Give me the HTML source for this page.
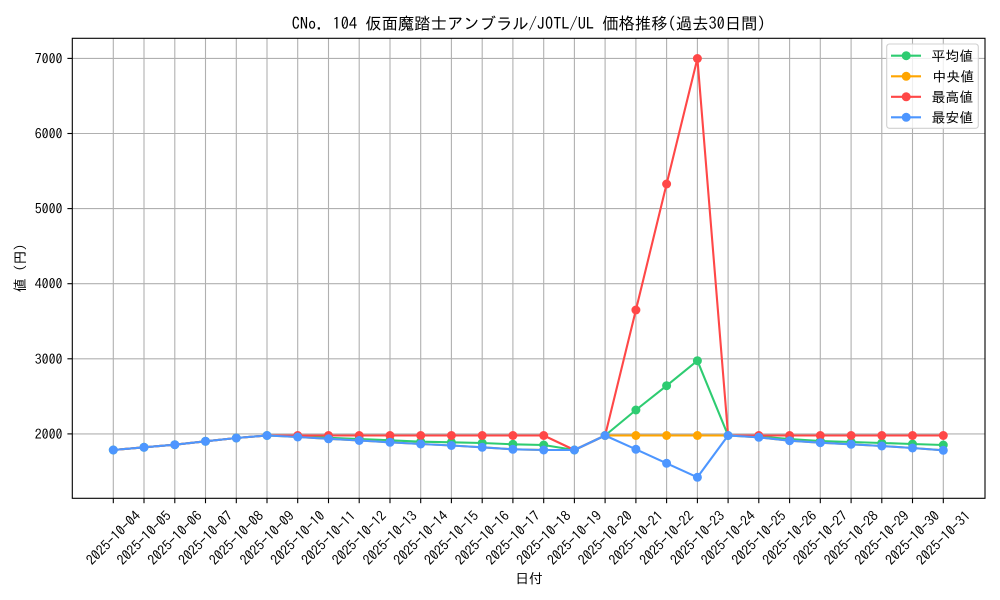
<!DOCTYPE html>
<html><head><meta charset="utf-8"><style>
html,body{margin:0;padding:0;background:#fff;}
svg{display:block;}
text{font-family:"IPAGothic","Liberation Sans","Noto Sans CJK JP",sans-serif;fill:#000;}
</style></head><body>
<svg width="1000" height="600" viewBox="0 0 1000 600" xmlns="http://www.w3.org/2000/svg">
<rect width="1000" height="600" fill="#fff"/>
<!-- grid -->
<g stroke="#b0b0b0" stroke-width="1.1">
<line x1="113.3" y1="38.3" x2="113.3" y2="498.3"/><line x1="144.0" y1="38.3" x2="144.0" y2="498.3"/><line x1="174.8" y1="38.3" x2="174.8" y2="498.3"/><line x1="205.5" y1="38.3" x2="205.5" y2="498.3"/><line x1="236.3" y1="38.3" x2="236.3" y2="498.3"/><line x1="267.0" y1="38.3" x2="267.0" y2="498.3"/><line x1="297.7" y1="38.3" x2="297.7" y2="498.3"/><line x1="328.5" y1="38.3" x2="328.5" y2="498.3"/><line x1="359.2" y1="38.3" x2="359.2" y2="498.3"/><line x1="390.0" y1="38.3" x2="390.0" y2="498.3"/><line x1="420.7" y1="38.3" x2="420.7" y2="498.3"/><line x1="451.4" y1="38.3" x2="451.4" y2="498.3"/><line x1="482.2" y1="38.3" x2="482.2" y2="498.3"/><line x1="512.9" y1="38.3" x2="512.9" y2="498.3"/><line x1="543.7" y1="38.3" x2="543.7" y2="498.3"/><line x1="574.4" y1="38.3" x2="574.4" y2="498.3"/><line x1="605.1" y1="38.3" x2="605.1" y2="498.3"/><line x1="635.9" y1="38.3" x2="635.9" y2="498.3"/><line x1="666.6" y1="38.3" x2="666.6" y2="498.3"/><line x1="697.4" y1="38.3" x2="697.4" y2="498.3"/><line x1="728.1" y1="38.3" x2="728.1" y2="498.3"/><line x1="758.8" y1="38.3" x2="758.8" y2="498.3"/><line x1="789.6" y1="38.3" x2="789.6" y2="498.3"/><line x1="820.3" y1="38.3" x2="820.3" y2="498.3"/><line x1="851.1" y1="38.3" x2="851.1" y2="498.3"/><line x1="881.8" y1="38.3" x2="881.8" y2="498.3"/><line x1="912.5" y1="38.3" x2="912.5" y2="498.3"/><line x1="943.3" y1="38.3" x2="943.3" y2="498.3"/>
<line x1="72.3" y1="58.4" x2="985" y2="58.4"/><line x1="72.3" y1="133.5" x2="985" y2="133.5"/><line x1="72.3" y1="208.6" x2="985" y2="208.6"/><line x1="72.3" y1="283.7" x2="985" y2="283.7"/><line x1="72.3" y1="358.8" x2="985" y2="358.8"/><line x1="72.3" y1="433.9" x2="985" y2="433.9"/>
</g>
<!-- series: green (avg) -->
<g fill="#2ecc71"><polyline fill="none" stroke="#2ecc71" stroke-width="2.1" stroke-linejoin="round" points="113.3,450.0 144.0,447.3 174.8,444.7 205.5,441.3 236.3,438.0 267.0,435.5 297.7,436.5 328.5,437.8 359.2,439.0 390.0,440.3 420.7,441.7 451.4,442.3 482.2,443.0 512.9,444.3 543.7,445.0 574.4,450.0 605.1,435.5 635.9,410.0 666.6,385.7 697.4,360.7 728.1,435.5 758.8,436.5 789.6,439.0 820.3,441.0 851.1,442.0 881.8,443.0 912.5,444.0 943.3,445.0"/>
<circle cx="113.3" cy="450.0" r="4.5"/><circle cx="144.0" cy="447.3" r="4.5"/><circle cx="174.8" cy="444.7" r="4.5"/><circle cx="205.5" cy="441.3" r="4.5"/><circle cx="236.3" cy="438.0" r="4.5"/><circle cx="267.0" cy="435.5" r="4.5"/><circle cx="297.7" cy="436.5" r="4.5"/><circle cx="328.5" cy="437.8" r="4.5"/><circle cx="359.2" cy="439.0" r="4.5"/><circle cx="390.0" cy="440.3" r="4.5"/><circle cx="420.7" cy="441.7" r="4.5"/><circle cx="451.4" cy="442.3" r="4.5"/><circle cx="482.2" cy="443.0" r="4.5"/><circle cx="512.9" cy="444.3" r="4.5"/><circle cx="543.7" cy="445.0" r="4.5"/><circle cx="574.4" cy="450.0" r="4.5"/><circle cx="605.1" cy="435.5" r="4.5"/><circle cx="635.9" cy="410.0" r="4.5"/><circle cx="666.6" cy="385.7" r="4.5"/><circle cx="697.4" cy="360.7" r="4.5"/><circle cx="728.1" cy="435.5" r="4.5"/><circle cx="758.8" cy="436.5" r="4.5"/><circle cx="789.6" cy="439.0" r="4.5"/><circle cx="820.3" cy="441.0" r="4.5"/><circle cx="851.1" cy="442.0" r="4.5"/><circle cx="881.8" cy="443.0" r="4.5"/><circle cx="912.5" cy="444.0" r="4.5"/><circle cx="943.3" cy="445.0" r="4.5"/></g>
<!-- orange (median) -->
<g fill="#ffa500"><polyline fill="none" stroke="#ffa500" stroke-width="2.1" stroke-linejoin="round" points="113.3,450.0 144.0,447.3 174.8,444.7 205.5,441.3 236.3,438.0 267.0,435.5 297.7,437.0 328.5,438.8 359.2,440.5 390.0,442.3 420.7,444.0 451.4,445.5 482.2,447.3 512.9,449.3 543.7,450.0 574.4,450.0 605.1,435.5 635.9,435.5 666.6,435.5 697.4,435.5 728.1,435.5 758.8,437.3 789.6,440.7 820.3,442.7 851.1,444.3 881.8,446.0 912.5,448.0 943.3,450.3"/>
<circle cx="605.1" cy="435.5" r="4.5"/><circle cx="635.9" cy="435.5" r="4.5"/><circle cx="666.6" cy="435.5" r="4.5"/><circle cx="697.4" cy="435.5" r="4.5"/></g>
<!-- red (max) -->
<g fill="#ff4747"><polyline fill="none" stroke="#ff4747" stroke-width="2.1" stroke-linejoin="round" points="113.3,450.0 144.0,447.3 174.8,444.7 205.5,441.3 236.3,438.0 267.0,435.5 297.7,435.5 328.5,435.5 359.2,435.5 390.0,435.5 420.7,435.5 451.4,435.5 482.2,435.5 512.9,435.5 543.7,435.5 574.4,450.0 605.1,435.5 635.9,310.0 666.6,184.0 697.4,58.5 728.1,435.5 758.8,435.5 789.6,435.5 820.3,435.5 851.1,435.5 881.8,435.5 912.5,435.5 943.3,435.5"/>
<circle cx="297.7" cy="435.5" r="4.5"/><circle cx="328.5" cy="435.5" r="4.5"/><circle cx="359.2" cy="435.5" r="4.5"/><circle cx="390.0" cy="435.5" r="4.5"/><circle cx="420.7" cy="435.5" r="4.5"/><circle cx="451.4" cy="435.5" r="4.5"/><circle cx="482.2" cy="435.5" r="4.5"/><circle cx="512.9" cy="435.5" r="4.5"/><circle cx="543.7" cy="435.5" r="4.5"/><circle cx="635.9" cy="310.0" r="4.5"/><circle cx="666.6" cy="184.0" r="4.5"/><circle cx="697.4" cy="58.5" r="4.5"/><circle cx="758.8" cy="435.5" r="4.5"/><circle cx="789.6" cy="435.5" r="4.5"/><circle cx="820.3" cy="435.5" r="4.5"/><circle cx="851.1" cy="435.5" r="4.5"/><circle cx="881.8" cy="435.5" r="4.5"/><circle cx="912.5" cy="435.5" r="4.5"/><circle cx="943.3" cy="435.5" r="4.5"/></g>
<!-- blue (min) -->
<g fill="#4d96ff"><polyline fill="none" stroke="#4d96ff" stroke-width="2.1" stroke-linejoin="round" points="113.3,450.0 144.0,447.3 174.8,444.7 205.5,441.3 236.3,438.0 267.0,435.5 297.7,437.0 328.5,438.8 359.2,440.5 390.0,442.3 420.7,444.0 451.4,445.5 482.2,447.3 512.9,449.3 543.7,450.0 574.4,450.0 605.1,435.5 635.9,449.3 666.6,463.3 697.4,477.3 728.1,435.5 758.8,437.3 789.6,440.7 820.3,442.7 851.1,444.3 881.8,446.0 912.5,448.0 943.3,450.3"/>
<circle cx="113.3" cy="450.0" r="4.5"/><circle cx="144.0" cy="447.3" r="4.5"/><circle cx="174.8" cy="444.7" r="4.5"/><circle cx="205.5" cy="441.3" r="4.5"/><circle cx="236.3" cy="438.0" r="4.5"/><circle cx="267.0" cy="435.5" r="4.5"/><circle cx="297.7" cy="437.0" r="4.5"/><circle cx="328.5" cy="438.8" r="4.5"/><circle cx="359.2" cy="440.5" r="4.5"/><circle cx="390.0" cy="442.3" r="4.5"/><circle cx="420.7" cy="444.0" r="4.5"/><circle cx="451.4" cy="445.5" r="4.5"/><circle cx="482.2" cy="447.3" r="4.5"/><circle cx="512.9" cy="449.3" r="4.5"/><circle cx="543.7" cy="450.0" r="4.5"/><circle cx="574.4" cy="450.0" r="4.5"/><circle cx="605.1" cy="435.5" r="4.5"/><circle cx="635.9" cy="449.3" r="4.5"/><circle cx="666.6" cy="463.3" r="4.5"/><circle cx="697.4" cy="477.3" r="4.5"/><circle cx="728.1" cy="435.5" r="4.5"/><circle cx="758.8" cy="437.3" r="4.5"/><circle cx="789.6" cy="440.7" r="4.5"/><circle cx="820.3" cy="442.7" r="4.5"/><circle cx="851.1" cy="444.3" r="4.5"/><circle cx="881.8" cy="446.0" r="4.5"/><circle cx="912.5" cy="448.0" r="4.5"/><circle cx="943.3" cy="450.3" r="4.5"/></g>
<!-- axes frame -->
<rect x="72.3" y="38.3" width="912.7" height="460" fill="none" stroke="#000" stroke-width="1.1"/>
<!-- ticks -->
<g stroke="#000" stroke-width="1.1">
<line x1="67.4" y1="58.4" x2="72.3" y2="58.4"/><line x1="67.4" y1="133.5" x2="72.3" y2="133.5"/><line x1="67.4" y1="208.6" x2="72.3" y2="208.6"/><line x1="67.4" y1="283.7" x2="72.3" y2="283.7"/><line x1="67.4" y1="358.8" x2="72.3" y2="358.8"/><line x1="67.4" y1="433.9" x2="72.3" y2="433.9"/>
<line x1="113.3" y1="498.3" x2="113.3" y2="503.2"/><line x1="144.0" y1="498.3" x2="144.0" y2="503.2"/><line x1="174.8" y1="498.3" x2="174.8" y2="503.2"/><line x1="205.5" y1="498.3" x2="205.5" y2="503.2"/><line x1="236.3" y1="498.3" x2="236.3" y2="503.2"/><line x1="267.0" y1="498.3" x2="267.0" y2="503.2"/><line x1="297.7" y1="498.3" x2="297.7" y2="503.2"/><line x1="328.5" y1="498.3" x2="328.5" y2="503.2"/><line x1="359.2" y1="498.3" x2="359.2" y2="503.2"/><line x1="390.0" y1="498.3" x2="390.0" y2="503.2"/><line x1="420.7" y1="498.3" x2="420.7" y2="503.2"/><line x1="451.4" y1="498.3" x2="451.4" y2="503.2"/><line x1="482.2" y1="498.3" x2="482.2" y2="503.2"/><line x1="512.9" y1="498.3" x2="512.9" y2="503.2"/><line x1="543.7" y1="498.3" x2="543.7" y2="503.2"/><line x1="574.4" y1="498.3" x2="574.4" y2="503.2"/><line x1="605.1" y1="498.3" x2="605.1" y2="503.2"/><line x1="635.9" y1="498.3" x2="635.9" y2="503.2"/><line x1="666.6" y1="498.3" x2="666.6" y2="503.2"/><line x1="697.4" y1="498.3" x2="697.4" y2="503.2"/><line x1="728.1" y1="498.3" x2="728.1" y2="503.2"/><line x1="758.8" y1="498.3" x2="758.8" y2="503.2"/><line x1="789.6" y1="498.3" x2="789.6" y2="503.2"/><line x1="820.3" y1="498.3" x2="820.3" y2="503.2"/><line x1="851.1" y1="498.3" x2="851.1" y2="503.2"/><line x1="881.8" y1="498.3" x2="881.8" y2="503.2"/><line x1="912.5" y1="498.3" x2="912.5" y2="503.2"/><line x1="943.3" y1="498.3" x2="943.3" y2="503.2"/>
</g>
<!-- y tick labels -->
<g font-size="13.9" text-anchor="end">
<text x="62.5" y="63.4">7000</text><text x="62.5" y="138.5">6000</text><text x="62.5" y="213.6">5000</text><text x="62.5" y="288.7">4000</text><text x="62.5" y="363.8">3000</text><text x="62.5" y="438.9">2000</text>
</g>
<!-- x tick labels -->
<g font-size="13.9" text-anchor="middle">
<text x="113.3" y="542.8" transform="rotate(-45 113.3 537.8)">2025-10-04</text>
<text x="144.0" y="542.8" transform="rotate(-45 144.0 537.8)">2025-10-05</text>
<text x="174.8" y="542.8" transform="rotate(-45 174.8 537.8)">2025-10-06</text>
<text x="205.5" y="542.8" transform="rotate(-45 205.5 537.8)">2025-10-07</text>
<text x="236.3" y="542.8" transform="rotate(-45 236.3 537.8)">2025-10-08</text>
<text x="267.0" y="542.8" transform="rotate(-45 267.0 537.8)">2025-10-09</text>
<text x="297.7" y="542.8" transform="rotate(-45 297.7 537.8)">2025-10-10</text>
<text x="328.5" y="542.8" transform="rotate(-45 328.5 537.8)">2025-10-11</text>
<text x="359.2" y="542.8" transform="rotate(-45 359.2 537.8)">2025-10-12</text>
<text x="390.0" y="542.8" transform="rotate(-45 390.0 537.8)">2025-10-13</text>
<text x="420.7" y="542.8" transform="rotate(-45 420.7 537.8)">2025-10-14</text>
<text x="451.4" y="542.8" transform="rotate(-45 451.4 537.8)">2025-10-15</text>
<text x="482.2" y="542.8" transform="rotate(-45 482.2 537.8)">2025-10-16</text>
<text x="512.9" y="542.8" transform="rotate(-45 512.9 537.8)">2025-10-17</text>
<text x="543.7" y="542.8" transform="rotate(-45 543.7 537.8)">2025-10-18</text>
<text x="574.4" y="542.8" transform="rotate(-45 574.4 537.8)">2025-10-19</text>
<text x="605.1" y="542.8" transform="rotate(-45 605.1 537.8)">2025-10-20</text>
<text x="635.9" y="542.8" transform="rotate(-45 635.9 537.8)">2025-10-21</text>
<text x="666.6" y="542.8" transform="rotate(-45 666.6 537.8)">2025-10-22</text>
<text x="697.4" y="542.8" transform="rotate(-45 697.4 537.8)">2025-10-23</text>
<text x="728.1" y="542.8" transform="rotate(-45 728.1 537.8)">2025-10-24</text>
<text x="758.8" y="542.8" transform="rotate(-45 758.8 537.8)">2025-10-25</text>
<text x="789.6" y="542.8" transform="rotate(-45 789.6 537.8)">2025-10-26</text>
<text x="820.3" y="542.8" transform="rotate(-45 820.3 537.8)">2025-10-27</text>
<text x="851.1" y="542.8" transform="rotate(-45 851.1 537.8)">2025-10-28</text>
<text x="881.8" y="542.8" transform="rotate(-45 881.8 537.8)">2025-10-29</text>
<text x="912.5" y="542.8" transform="rotate(-45 912.5 537.8)">2025-10-30</text>
<text x="943.3" y="542.8" transform="rotate(-45 943.3 537.8)">2025-10-31</text>
</g>
<!-- axis labels & title -->
<text x="529" y="583.5" font-size="13.9" text-anchor="middle">日付</text>
<text x="25" y="268" font-size="13.9" text-anchor="middle" transform="rotate(-90 25 268)">値 (円)</text>
<text x="528.7" y="29.3" font-size="16.67" text-anchor="middle" textLength="474" lengthAdjust="spacingAndGlyphs">CNo. 104 仮面魔踏士アンブラル/JOTL/UL 価格推移(過去30日間)</text>
<!-- legend -->
<rect x="886.7" y="44" width="91.6" height="84.3" rx="2.8" fill="#fff" fill-opacity="0.8" stroke="#d0d0d0" stroke-width="1.1"/>
<line x1="891" y1="55.7" x2="921" y2="55.7" stroke="#2ecc71" stroke-width="2.1"/><circle cx="906.2" cy="55.7" r="4.5" fill="#2ecc71"/>
<line x1="891" y1="76.3" x2="921" y2="76.3" stroke="#ffa500" stroke-width="2.1"/><circle cx="906.2" cy="76.3" r="4.5" fill="#ffa500"/>
<line x1="891" y1="96.8" x2="921" y2="96.8" stroke="#ff4747" stroke-width="2.1"/><circle cx="906.2" cy="96.8" r="4.5" fill="#ff4747"/>
<line x1="891" y1="117.3" x2="921" y2="117.3" stroke="#4d96ff" stroke-width="2.1"/><circle cx="906.2" cy="117.3" r="4.5" fill="#4d96ff"/>
<g font-size="13.9">
<text x="931.5" y="60.8">平均値</text>
<text x="932.5" y="81.4">中央値</text>
<text x="931.5" y="101.9">最高値</text>
<text x="931.5" y="122.4">最安値</text>
</g>
</svg>
</body></html>
